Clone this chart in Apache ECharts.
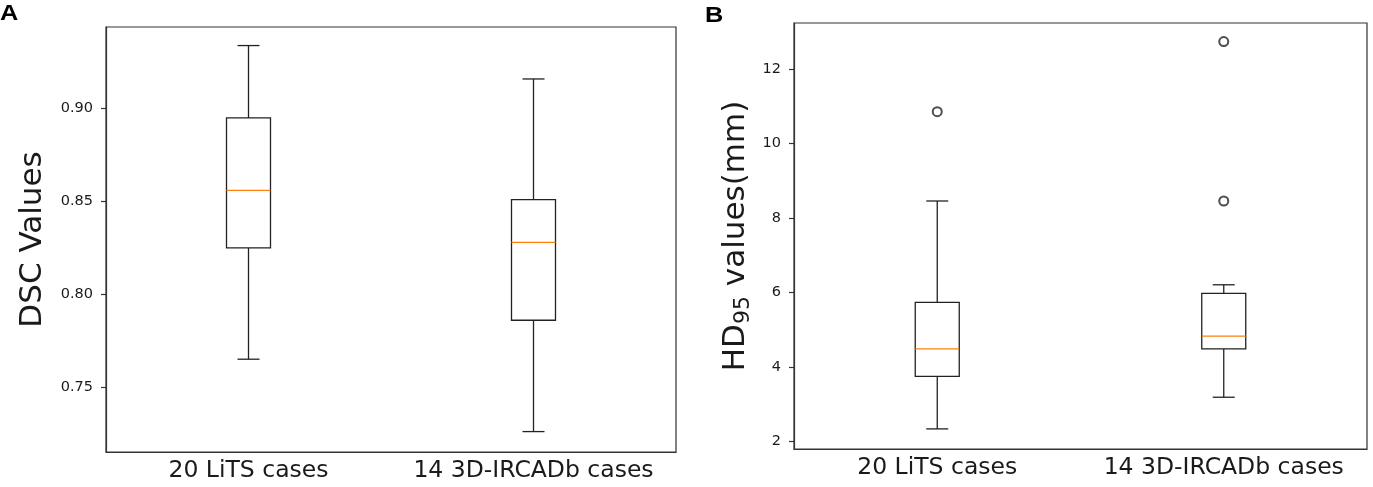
<!DOCTYPE html>
<html lang="en">
<head>
    <meta charset="UTF-8">
    <title>DSC and HD95 box plots</title>
    <script src="https://cdn.jsdelivr.net/npm/echarts@6/dist/echarts.min.js"></script>
    <style>
        html, body { margin: 0; padding: 0; background: #fff; }
        #main { width: 1373px; height: 487px; }
    </style>
</head>
<body>
    <div id="main"></div>
    <script>
        // categories on both x axes
        var categories = ['20 LiTS cases', '14 3D-IRCADb cases'];

        // [category index, lower whisker, Q1, median, Q3, upper whisker]
        var dscBoxes = [
            [0, 0.765, 0.825, 0.856, 0.895, 0.934],
            [1, 0.726, 0.786, 0.828, 0.851, 0.916]
        ];
        var hdBoxes = [
            [0, 2.34, 3.75, 4.49, 5.74, 8.46],
            [1, 3.19, 4.49, 4.83, 5.98, 6.21]
        ];
        // [category index, value]
        var hdOutliers = [
            [0, 10.86],
            [1, 12.74],
            [1, 8.46]
        ];

        // tick labels
        var dscTicks = [0.75, 0.80, 0.85, 0.90];
        var hdTicks = [2, 4, 6, 8, 10, 12];

        var FONT = 'DejaVu Sans';
        var TEXT = '#1a1a1a';
        var FRAME = '#333';
        var BOX_W = 44;
        var CAP_W = 22;

        // matplotlib-like box: box, median, whiskers and half-width caps
        function renderBox(params, api) {
            var c = api.value(0);
            var lo = api.coord([c, api.value(1)]);
            var q1 = api.coord([c, api.value(2)]);
            var md = api.coord([c, api.value(3)]);
            var q3 = api.coord([c, api.value(4)]);
            var hi = api.coord([c, api.value(5)]);
            var x = lo[0];
            var ls = { stroke: '#222', lineWidth: 1.3 };
            return {
                type: 'group',
                children: [
                    { type: 'line', shape: { x1: x, y1: q3[1], x2: x, y2: hi[1] }, style: ls },
                    { type: 'line', shape: { x1: x, y1: q1[1], x2: x, y2: lo[1] }, style: ls },
                    { type: 'line', shape: { x1: x - CAP_W / 2, y1: hi[1], x2: x + CAP_W / 2, y2: hi[1] }, style: ls },
                    { type: 'line', shape: { x1: x - CAP_W / 2, y1: lo[1], x2: x + CAP_W / 2, y2: lo[1] }, style: ls },
                    { type: 'rect', shape: { x: x - BOX_W / 2, y: q3[1], width: BOX_W, height: q1[1] - q3[1] },
                      style: { stroke: '#222', lineWidth: 1.3, fill: '#fff' } },
                    { type: 'line', shape: { x1: x - BOX_W / 2, y1: md[1], x2: x + BOX_W / 2, y2: md[1] },
                      style: { stroke: '#ff7f0e', lineWidth: 1.3 } }
                ]
            };
        }

        function xAxisFor(idx) {
            return {
                type: 'category',
                gridIndex: idx,
                data: categories,
                axisLine: { show: true, lineStyle: { color: FRAME, width: 1.2 } },
                axisTick: { alignWithLabel: true, interval: 0, length: 5, lineStyle: { color: FRAME, width: 1.2 } },
                axisLabel: { interval: 0, hideOverlap: false, fontFamily: FONT, fontSize: 23.5, color: TEXT, margin: 7 },
                splitLine: { show: false }
            };
        }

        var chartDom = document.getElementById('main');
        var myChart = echarts.init(chartDom);

        var option = {
            animation: false,
            graphic: [
                { type: 'text', left: 0, top: 3, scaleX: 1.15,
                  style: { text: 'A', fontSize: 22, fontWeight: 'bold', fontFamily: 'Liberation Sans', fill: '#000' } },
                { type: 'text', left: 705, top: 5, scaleX: 1.15,
                  style: { text: 'B', fontSize: 22, fontWeight: 'bold', fontFamily: 'Liberation Sans', fill: '#000' } }
            ],
            grid: [
                { left: 106, right: 697, top: 27, bottom: 35, show: true, borderColor: FRAME, borderWidth: 1.2 },
                { left: 794, right: 6, top: 23, bottom: 38, show: true, borderColor: FRAME, borderWidth: 1.2 }
            ],
            xAxis: [xAxisFor(0), xAxisFor(1)],
            yAxis: [
                {
                    type: 'value',
                    gridIndex: 0,
                    min: 0.715,
                    max: 0.944,
                    name: 'DSC Values',
                    nameLocation: 'middle',
                    nameGap: 58,
                    nameTextStyle: { fontFamily: FONT, fontSize: 31, color: TEXT },
                    axisLine: { show: true, lineStyle: { color: FRAME, width: 1.2 } },
                    axisTick: { show: true, length: 5, customValues: dscTicks, lineStyle: { color: FRAME, width: 1.2 } },
                    axisLabel: {
                        customValues: dscTicks,
                        fontFamily: FONT, fontSize: 14.5, color: TEXT, margin: 13,
                        formatter: function (v) { return v.toFixed(2); }
                    },
                    splitLine: { show: false }
                },
                {
                    type: 'value',
                    gridIndex: 1,
                    min: 1.8,
                    max: 13.24,
                    name: '{m|HD}{s|95}{m| values(mm)}',
                    nameLocation: 'middle',
                    nameGap: 40,
                    nameTextStyle: {
                        rich: {
                            m: { fontFamily: FONT, fontSize: 31, color: TEXT, lineHeight: 36 },
                            s: { fontFamily: FONT, fontSize: 22, color: TEXT, lineHeight: 22, verticalAlign: 'bottom' }
                        }
                    },
                    axisLine: { show: true, lineStyle: { color: FRAME, width: 1.2 } },
                    axisTick: { show: true, length: 5, customValues: hdTicks, lineStyle: { color: FRAME, width: 1.2 } },
                    axisLabel: {
                        customValues: hdTicks,
                        fontFamily: FONT, fontSize: 14.5, color: TEXT, margin: 13
                    },
                    splitLine: { show: false }
                }
            ],
            series: [
                {
                    type: 'custom',
                    xAxisIndex: 0,
                    yAxisIndex: 0,
                    renderItem: renderBox,
                    encode: { x: 0, y: [1, 2, 3, 4, 5] },
                    data: dscBoxes
                },
                {
                    type: 'custom',
                    xAxisIndex: 1,
                    yAxisIndex: 1,
                    renderItem: renderBox,
                    encode: { x: 0, y: [1, 2, 3, 4, 5] },
                    data: hdBoxes
                },
                {
                    type: 'scatter',
                    xAxisIndex: 1,
                    yAxisIndex: 1,
                    symbol: 'emptyCircle',
                    symbolSize: 9,
                    itemStyle: { color: '#222', borderWidth: 1.3 },
                    data: hdOutliers
                }
            ]
        };

        myChart.setOption(option);

        window.addEventListener('resize', function () {
            myChart.resize();
        });
    </script>
</body>
</html>
